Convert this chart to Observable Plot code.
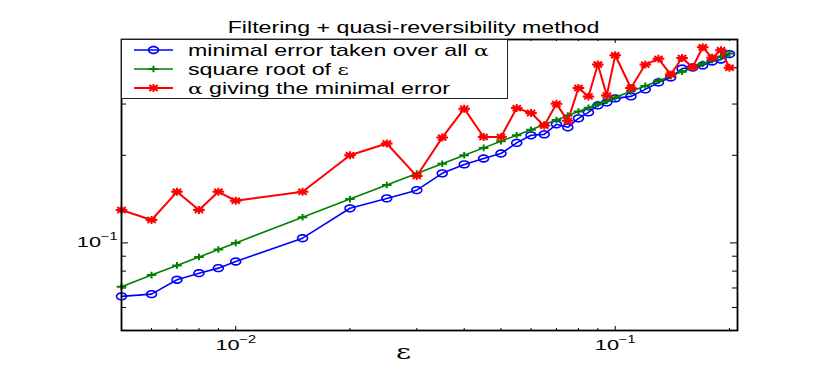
<!DOCTYPE html>
<html>
<head>
<meta charset="utf-8">
<script src="https://cdn.jsdelivr.net/npm/d3@7"></script>
<script src="https://cdn.jsdelivr.net/npm/@observablehq/plot@0.6"></script>
<style>
  body { margin: 0; background: #fff; }
</style>
</head>
<body>
<div id="chart"></div>
<script>
// ---- data ----
const eps = [0.005,0.006,0.007,0.008,0.009,0.01,0.015,0.02,0.025,0.03,0.035,0.04,0.045,0.05,0.055,0.06,0.065,0.07,0.075,0.08,0.085,0.09,0.095,0.1,0.11,0.12,0.13,0.14,0.15,0.16,0.17,0.18,0.19,0.2];
const minErr = [0.0655,0.0667,0.0747,0.0787,0.0819,0.0863,0.1038,0.1315,0.1422,0.1518,0.1734,0.1861,0.195,0.2029,0.2206,0.2343,0.2361,0.2556,0.2496,0.268,0.281,0.2969,0.304,0.3138,0.3187,0.3369,0.356,0.3703,0.3974,0.4007,0.4071,0.4202,0.4268,0.4456];
const sqrtEps = [0.0707,0.0775,0.0837,0.0894,0.0949,0.1,0.1225,0.1414,0.1581,0.1732,0.1871,0.2,0.2121,0.2236,0.2345,0.2449,0.255,0.2646,0.2739,0.2828,0.2915,0.3,0.3082,0.3162,0.3317,0.3464,0.3606,0.3742,0.3873,0.4,0.4123,0.4243,0.4359,0.4472];
const alphaErr = [0.1297,0.1199,0.1498,0.1297,0.1498,0.1396,0.1498,0.2,0.2195,0.1697,0.2301,0.2893,0.2312,0.2312,0.2906,0.2794,0.2526,0.3005,0.2627,0.3408,0.3187,0.4102,0.3213,0.4414,0.3408,0.41,0.429,0.3792,0.4318,0.4016,0.47,0.4328,0.4592,0.3997];

const xMajor = [0.01, 0.1];
const xMinor = [0.006,0.007,0.008,0.009,0.02,0.03,0.04,0.05,0.06,0.07,0.08,0.09,0.2];
const yMajor = [0.1];
const yMinor = [0.06,0.07,0.08,0.09,0.2,0.3,0.4];
const xTickLabels = ["10^-2", "10^-1"];
const yTickLabels = ["10^-1"];
const titleText = "Filtering + quasi-reversibility method";
const legendLabels = [["minimal error taken over all ", "\u03B1", ""], ["square root of ", "\u03B5", ""], ["", "\u03B1", " giving the minimal error"]];
const colors = ["#0000ff", "#008000", "#ff0000"];

// ---- layout ----
const W = 830, H = 382;
const mL = 121, mR = 93, mT = 39, mB = 52;
const FW = W - mL - mR, FH = H - mT - mB;
const SX = 1.45; // horizontal stretch of the reference

// ---- custom markers ----
const ellipseSym = { draw(ctx, size) { const r = Math.sqrt(size / Math.PI); const n = 32;
  for (let i = 0; i <= n; i++) { const a = 2 * Math.PI * i / n; const x = SX * r * Math.cos(a), y = r * Math.sin(a); if (i) ctx.lineTo(x, y); else ctx.moveTo(x, y); } ctx.closePath(); } };
const plusSym = { draw(ctx, size) { const r = Math.sqrt(size / Math.PI);
  ctx.moveTo(-SX * r, 0); ctx.lineTo(SX * r, 0); ctx.moveTo(0, -r); ctx.lineTo(0, r); } };
const starSym = { draw(ctx, size) { const r = Math.sqrt(size / Math.PI); const d = 0.72 * r;
  ctx.moveTo(-SX * r, 0); ctx.lineTo(SX * r, 0); ctx.moveTo(0, -r); ctx.lineTo(0, r);
  ctx.moveTo(-SX * d, -d); ctx.lineTo(SX * d, d); ctx.moveTo(-SX * d, d); ctx.lineTo(SX * d, -d); } };

const rows = (vals) => eps.map((e, i) => ({eps: e, v: vals[i]}));
const blue = rows(minErr), green = rows(sqrtEps), red = rows(alphaErr);
const xLab = d => xTickLabels[xMajor.indexOf(d)];
const yLab = d => yTickLabels[yMajor.indexOf(d)];

const plot = Plot.plot({
  width: W, height: H,
  marginLeft: mL, marginRight: mR, marginTop: mT, marginBottom: mB,
  style: {fontFamily: "'Liberation Sans', Arial, sans-serif", fontSize: "14px", color: "#000", background: "#fff"},
  x: {type: "log", domain: [0.005, 0.21], label: null},
  y: {type: "log", domain: [0.05, 0.5], label: null},
  marks: [
    Plot.axisX(xMajor, {tickSize: 0, tickPadding: 10, tickFormat: xLab, label: null, fill: "#000"}),
    Plot.axisY(yMajor, {tickSize: 0, tickPadding: 4, tickFormat: yLab, label: null, fill: "#000"}),
    // inward ticks on all four sides
    Plot.tickX(xMinor, {x: d => d, insetTop: FH - 2, stroke: "#000"}),
    Plot.tickX(xMinor, {x: d => d, insetBottom: FH - 2, stroke: "#000"}),
    Plot.tickX(xMajor, {x: d => d, insetTop: FH - 4, stroke: "#000"}),
    Plot.tickX(xMajor, {x: d => d, insetBottom: FH - 4, stroke: "#000"}),
    Plot.tickY(yMinor, {y: d => d, insetRight: FW - 5, stroke: "#000"}),
    Plot.tickY(yMinor, {y: d => d, insetLeft: FW - 5, stroke: "#000"}),
    Plot.tickY(yMajor, {y: d => d, insetRight: FW - 7, stroke: "#000"}),
    Plot.tickY(yMajor, {y: d => d, insetLeft: FW - 7, stroke: "#000"}),
    // series
    Plot.line(blue, {x: "eps", y: "v", stroke: colors[0], strokeWidth: 1.6}),
    Plot.dot(blue, {x: "eps", y: "v", stroke: colors[0], fill: "none", strokeWidth: 1.6, r: 3.4, symbol: ellipseSym}),
    Plot.line(green, {x: "eps", y: "v", stroke: colors[1], strokeWidth: 1.6}),
    Plot.dot(green, {x: "eps", y: "v", stroke: colors[1], fill: "none", strokeWidth: 2, r: 3.3, symbol: plusSym}),
    Plot.line(red, {x: "eps", y: "v", stroke: colors[2], strokeWidth: 2}),
    Plot.dot(red, {x: "eps", y: "v", stroke: colors[2], fill: "none", strokeWidth: 2, r: 4, symbol: starSym}),
    Plot.frame({stroke: "#000", strokeWidth: 1.8}),
    // title and x label
    Plot.text([titleText], {frameAnchor: "top", lineAnchor: "middle", text: d => d, dx: -16, dy: -12, fontSize: 16, fill: "#000"}),
    Plot.text(["\u03B5"], {frameAnchor: "bottom", lineAnchor: "middle", text: d => d, dx: -26, dy: 22, fontSize: 20, fontFamily: "'DejaVu Serif', serif", fill: "#000"})
  ]
});

// power-of-ten tick labels: base + raised exponent
plot.querySelectorAll("text").forEach(t => {
  const s = t.textContent;
  const m = /^10\^(-?\d+)$/.exec(s);
  if (m) {
    t.textContent = "";
    const ns = "http://www.w3.org/2000/svg";
    const a = document.createElementNS(ns, "tspan"); a.textContent = "10"; a.setAttribute("font-size", "15px");
    const b = document.createElementNS(ns, "tspan"); b.textContent = m[1].replace("-", "\u2212"); b.setAttribute("font-size", "10px"); b.setAttribute("dy", "-0.75em");
    t.appendChild(a); t.appendChild(b);
  }
});

// reproduce the horizontal stretch of all text in the reference
plot.querySelectorAll("text").forEach(t => {
  let tr = t.getAttribute("transform");
  if (!tr) {
    const x = +(t.getAttribute("x") || 0), y = +(t.getAttribute("y") || 0);
    t.setAttribute("x", 0); t.setAttribute("y", 0);
    tr = `translate(${x},${y})`;
  }
  t.setAttribute("transform", tr + ` scale(${SX},1)`);
});

// legend box (MATLAB style, top-left inside the axes)
const svg = d3.select(plot);
const lg = svg.append("g").attr("text-anchor", "start");
lg.append("rect").attr("x", 121.5).attr("y", 39.5).attr("width", 386).attr("height", 59)
  .attr("fill", "#fff").attr("stroke", "#222").attr("stroke-width", 1);
const syms = [ellipseSym, plusSym, starSym];
const symR = [3.4, 3.3, 4];
const symW = [1.6, 2, 2];
const lineW = [1.6, 1.6, 2];
legendLabels.forEach((lab, i) => {
  const y = 50 + i * 19;
  lg.append("line").attr("x1", 134).attr("x2", 173).attr("y1", y).attr("y2", y)
    .attr("stroke", colors[i]).attr("stroke-width", lineW[i]);
  lg.append("path").attr("d", d3.symbol(syms[i], symR[i] * symR[i] * Math.PI)())
    .attr("transform", `translate(153.5,${y})`).attr("fill", "none")
    .attr("stroke", colors[i]).attr("stroke-width", symW[i]);
  const t = lg.append("text").attr("text-anchor", "start").attr("transform", `translate(188,${y}) scale(${SX},1)`)
    .attr("dy", "0.36em").style("font-size", "16px").attr("fill", "#000");
  if (lab[0]) t.append("tspan").text(lab[0]);
  t.append("tspan").style("font-family", "'DejaVu Serif', serif").style("font-size", "15px").text(lab[1]);
  if (lab[2]) t.append("tspan").text(lab[2]);
});

document.getElementById("chart").appendChild(plot);
</script>
</body>
</html>
